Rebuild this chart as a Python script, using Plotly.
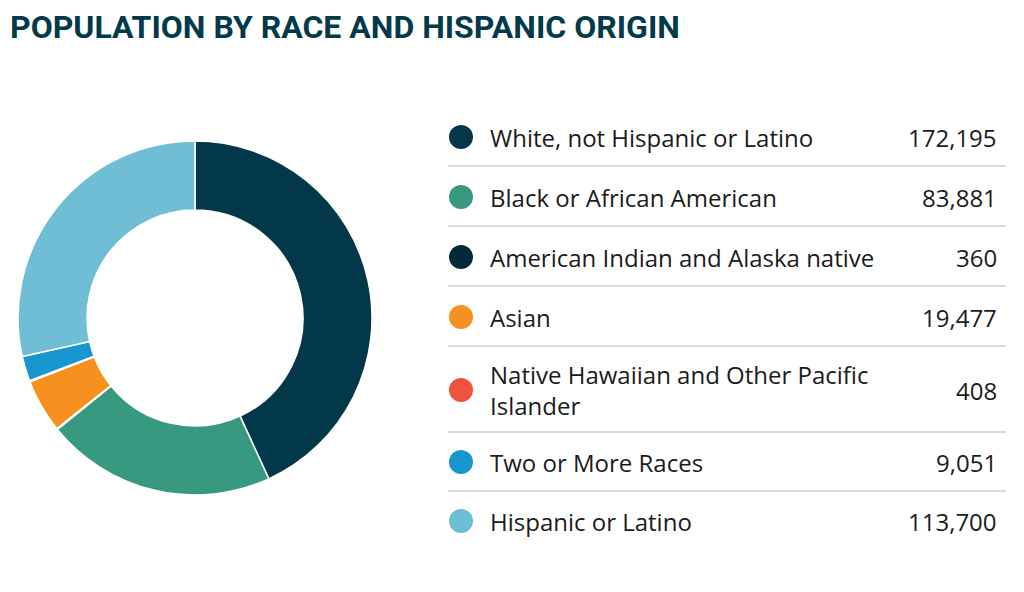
import plotly.graph_objects as go

W, H = 1024, 592
PAGE_OFFSET = 8  # browser body margin; coordinates below are screen pixels

# data
groups = [
    'White, not Hispanic or Latino',
    'Black or African American',
    'American Indian and Alaska native',
    'Asian',
    'Native Hawaiian and Other Pacific Islander',
    'Two or More Races',
    'Hispanic or Latino',
]
population = [172195, 83881, 360, 19477, 408, 9051, 113700]
colors = ['#03384a', '#379a80', '#022a38', '#f7901e', '#ef5240', '#1796cf', '#6fbed6']

# legend layout (screen pixels from top)
row_centers = [137, 197, 257, 317, 390, 462, 521]
separators = [166, 226, 286, 346, 432, 491]
label_lines = {4: 'Native Hawaiian and Other Pacific<br>Islander'}

TITLE_COLOR = '#033a4a'
TEXT_COLOR = '#1b1b1b'
TITLE_FONT = 'Roboto'
FONT = 'Open Sans'


def paper_x(x):
    return (x - PAGE_OFFSET) / W


def paper_y(y):
    return 1 - (y - PAGE_OFFSET) / H


fig = go.Figure()

# donut: center (195, 318), outer radius 177
fig.add_trace(go.Pie(
    labels=groups,
    values=population,
    marker=dict(colors=colors, line=dict(color='white', width=1.5)),
    hole=0.61,
    sort=False,
    direction='clockwise',
    rotation=0,
    textinfo='none',
    hoverinfo='label+value',
    showlegend=False,
    domain=dict(x=[paper_x(18), paper_x(372)], y=[paper_y(495), paper_y(141)]),
))

# legend dots on a hidden pixel-scaled axis
fig.add_trace(go.Scatter(
    x=[461] * len(groups),
    y=row_centers,
    mode='markers',
    marker=dict(size=24, color=colors, line=dict(width=0)),
    hoverinfo='skip',
    showlegend=False,
))

annotations = [dict(
    text='POPULATION BY RACE AND HISPANIC ORIGIN',
    x=0, y=1.004, xref='paper', yref='paper', xanchor='left', yanchor='top',
    showarrow=False, font=dict(family=TITLE_FONT, size=32, color=TITLE_COLOR, weight='bold'),
)]
for i, (name, val) in enumerate(zip(groups, population)):
    annotations.append(dict(
        text=label_lines.get(i, name), x=488, y=row_centers[i], xref='x', yref='y',
        xanchor='left', yanchor='middle', align='left', showarrow=False,
        font=dict(family=FONT, size=24, color=TEXT_COLOR),
    ))
    annotations.append(dict(
        text=f'{val:,}', x=999, y=row_centers[i], xref='x', yref='y',
        xanchor='right', yanchor='middle', showarrow=False,
        font=dict(family=FONT, size=24, color=TEXT_COLOR),
    ))

shapes = [dict(type='line', x0=448, x1=1006, y0=y, y1=y, xref='x', yref='y',
               line=dict(color='#d9d9d9', width=2)) for y in separators]

fig.update_layout(
    width=W, height=H,
    margin=dict(l=0, r=0, t=0, b=0),
    paper_bgcolor='white',
    plot_bgcolor='rgba(0,0,0,0)',
    xaxis=dict(range=[PAGE_OFFSET, PAGE_OFFSET + W], visible=False, fixedrange=True),
    yaxis=dict(range=[PAGE_OFFSET + H, PAGE_OFFSET], visible=False, fixedrange=True),
    annotations=annotations,
    shapes=shapes,
)

fig.write_html('out.html')
